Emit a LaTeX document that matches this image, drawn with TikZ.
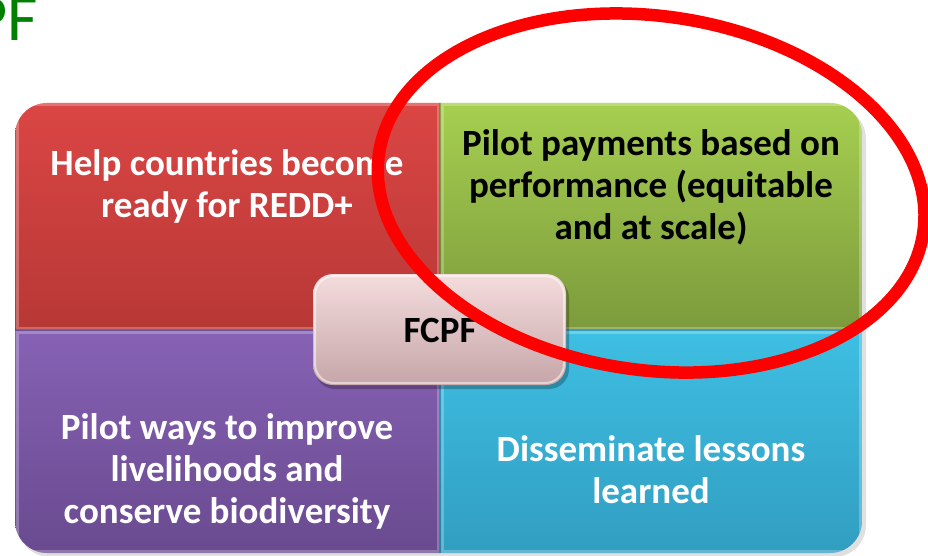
\documentclass[tikz,border=0pt]{standalone}
\usepackage{fontspec}
\setmainfont{Carlito}
\definecolor{redT}{RGB}{218,70,68}
\definecolor{redB}{RGB}{183,56,54}
\definecolor{grnT}{RGB}{166,207,80}
\definecolor{grnB}{RGB}{124,154,60}
\definecolor{purT}{RGB}{135,98,181}
\definecolor{purB}{RGB}{105,74,143}
\definecolor{cyaT}{RGB}{62,191,227}
\definecolor{cyaB}{RGB}{49,158,193}
\definecolor{pnkT}{RGB}{244,220,221}
\definecolor{pnkB}{RGB}{198,166,168}
\definecolor{titlegreen}{RGB}{0,128,0}
\definecolor{ringred}{RGB}{255,0,0}
\tikzset{
  quadtext/.style={align=center, font=\bfseries\fontsize{37}{42}\selectfont, inner sep=0pt},
}
\begin{document}
\begin{tikzpicture}[x=1pt,y=-1pt]
\useasboundingbox (0,0) rectangle (928,556);
\fill[white] (0,0) rectangle (928,556);
\begin{scope}
\clip (0,0) rectangle (928,556);
\node[anchor=base east, text=titlegreen, font=\fontsize{66}{66}\selectfont, inner sep=0pt] (title) at (38,41) {FCPF};
% soft shadow of the matrix
\fill[black, opacity=0.12, rounded corners=32] (18,107) rectangle (866,557);
\begin{scope}
\clip[rounded corners=32] (15,103) rectangle (862,553);
\shade[top color=redT, bottom color=redB] (15,103) rectangle (440,330);
\shade[top color=grnT, bottom color=grnB] (440,103) rectangle (862,330);
\shade[top color=purT, bottom color=purB] (15,330) rectangle (440,553);
\shade[top color=cyaT, bottom color=cyaB] (440,330) rectangle (862,553);
% bevel edges
\draw[white, opacity=0.25, line width=3] (17,105) rectangle (438,328);
\draw[white, opacity=0.25, line width=3] (442,105) rectangle (860,328);
\draw[white, opacity=0.25, line width=3] (17,332) rectangle (438,551);
\draw[white, opacity=0.25, line width=3] (442,332) rectangle (860,551);
\draw[black, opacity=0.18, line width=1.5] (440,103) -- (440,553);
\draw[black, opacity=0.18, line width=1.5] (15,330) -- (862,330);
\end{scope}
\node[quadtext, text=white] (ready) at (227,186) {Help countries become\\ready for REDD+};
\node[quadtext, text=black] (pay) at (651,187) {Pilot payments based on\\performance (equitable\\and at scale)};
\node[quadtext, text=white] (live) at (227,471) {Pilot ways to improve\\livelihoods and\\conserve biodiversity};
\node[quadtext, text=white] (learn) at (651,470) {Disseminate lessons\\learned};
% central box
\fill[black, opacity=0.25, rounded corners=20] (315,278) rectangle (569,389);
\shade[top color=pnkT, bottom color=pnkB, rounded corners=20] (313,274) rectangle (566,385);
\draw[white, opacity=0.5, line width=2, rounded corners=19] (315,276) rectangle (564,383);
\node[quadtext, text=black] (fcpf) at (440,330) {FCPF};
% red ring
\draw[ringred, line width=12.5, rotate around={-8.2:(651,194)}] (651,193) ellipse [x radius=275, y radius=177];
\end{scope}
\end{tikzpicture}
\end{document}
